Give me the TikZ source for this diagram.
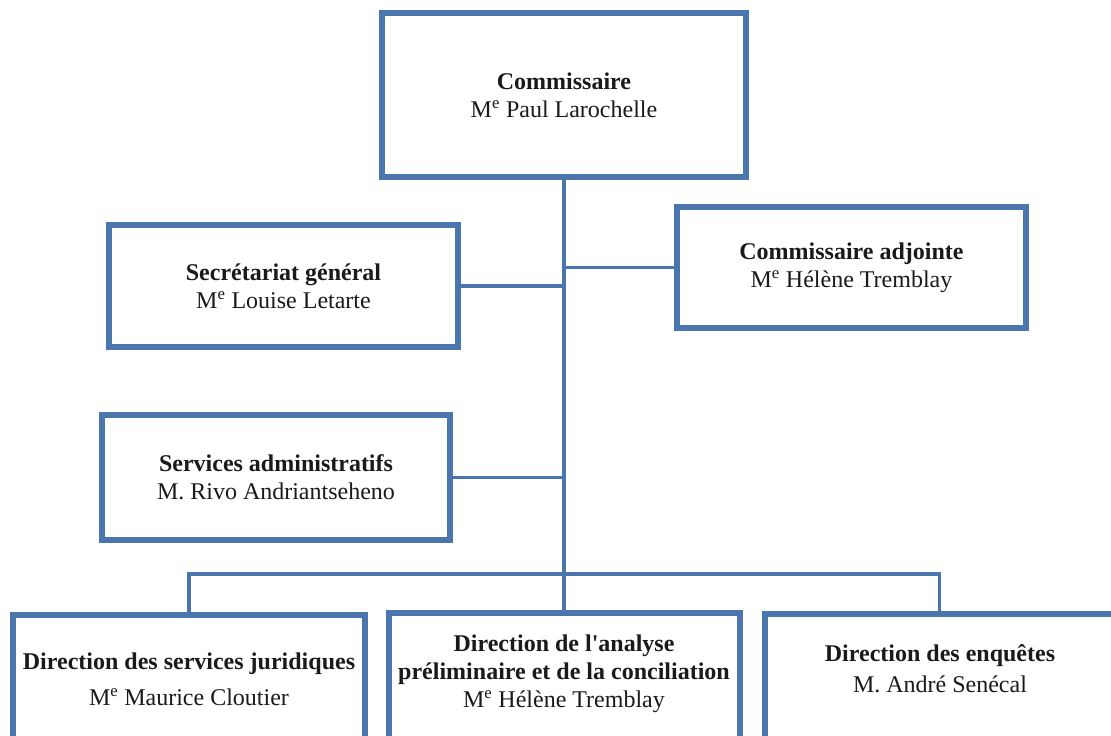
\documentclass[tikz,border=0pt]{standalone}
\usepackage{fontspec}
\setmainfont{Liberation Serif}
\usetikzlibrary{shadows}
\definecolor{boxblue}{HTML}{4A75AD}
\definecolor{txtcol}{HTML}{1A1A1A}
\begin{document}
\begin{tikzpicture}[x=1pt,y=-1pt,
  orgbox/.style={rectangle, draw=boxblue, line width=6pt, fill=white, inner sep=0pt, outer sep=0pt,
    anchor=north west, align=center, text=txtcol, font=\fontsize{24}{28}\selectfont,
    general shadow={fill=black, opacity=0.25, shadow xshift=1.5pt, shadow yshift=-2pt}},
  txt/.style={align=center, text=txtcol, font=\fontsize{24}{28}\selectfont, inner sep=0pt},
  conn/.style={draw=boxblue, line width=3.5pt}]
\useasboundingbox (0,0) rectangle (1111,736);
\fill[white] (0,0) rectangle (1111,736);

% boxes
\node[orgbox, minimum width=364pt, minimum height=164pt] (top) at (382,13)
  {\textbf{Commissaire}\\M\textsuperscript{e} Paul Larochelle};
\node[orgbox, minimum width=349pt, minimum height=122pt] (sec) at (109,225)
  {\textbf{Secrétariat général}\\M\textsuperscript{e} Louise Letarte};
\node[orgbox, minimum width=349pt, minimum height=121pt] (adj) at (677,207)
  {\textbf{Commissaire adjointe}\\M\textsuperscript{e} Hélène Tremblay};
\node[orgbox, minimum width=348pt, minimum height=125pt] (adm) at (102,415)
  {\textbf{Services administratifs}\\M. Rivo Andriantseheno};
\node[orgbox, minimum width=352.5pt, minimum height=126pt] (d1) at (12.5,614.5) {};
\node[orgbox, minimum width=351pt, minimum height=127pt] (d2) at (388.5,613) {};
\node[orgbox, minimum width=350pt, minimum height=127pt] (d3) at (764.5,613.5) {};

% texts of the lower boxes
\node[txt] (t1) at (189,679) {\textbf{Direction des services juridiques}\\[8pt]M\textsuperscript{e} Maurice Cloutier};
\node[txt] (t2) at (564,674) {\textbf{Direction de l\textquotesingle analyse}\\\textbf{préliminaire  et de la conciliation}\\M\textsuperscript{e} Hélène Tremblay};
\node[txt] (t3) at (940,669) {\textbf{Direction des enquêtes}\\[3pt]M. André Senécal};

% connectors
\coordinate (bus) at (564,574);
\draw[conn] (top.south) -- (bus);
\draw[conn] (sec.east) -- (sec.east -| top.south);
\draw[conn] (adj.west) -- (adj.west -| top.south);
\draw[conn] (adm.east) -- (adm.east -| top.south);
\draw[conn] (d1.north) |- (bus) -| (d3.north);
\draw[conn] (bus) -- (d2.north);
\end{tikzpicture}
\end{document}
